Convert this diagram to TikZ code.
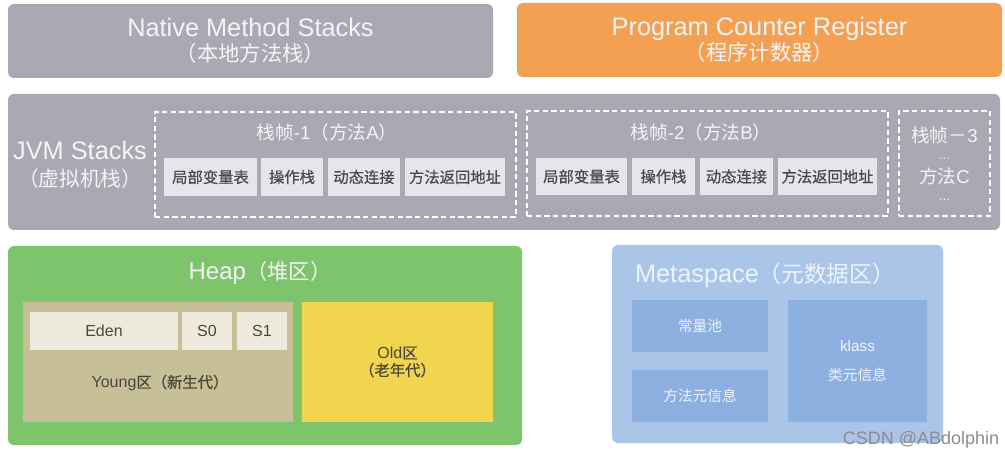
\documentclass[tikz,border=0pt]{standalone}
\usepackage{fontspec}
\setmainfont{Liberation Sans}
\newfontfamily\cjk{Noto Sans CJK SC}
\newfontfamily\cjkheavy[FakeBold=0.6]{Noto Sans CJK SC}
\definecolor{stackgray}{HTML}{A9A8B3}
\definecolor{pcorange}{HTML}{F3A052}
\definecolor{lighttxt}{HTML}{F4F4F7}
\definecolor{celltxt}{HTML}{4A4A4E}
\definecolor{cellfill}{HTML}{E6E6EA}
\definecolor{heapgreen}{HTML}{7EC46C}
\definecolor{youngtan}{HTML}{C6BF98}
\definecolor{edenfill}{HTML}{EDE9DC}
\definecolor{oldyellow}{HTML}{F1D54F}
\definecolor{darktxt}{HTML}{4B4839}
\definecolor{metablue}{HTML}{ABC5E9}
\definecolor{metainner}{HTML}{8EB0E0}
\definecolor{metatxt}{HTML}{EEF3FB}
\definecolor{wmgray}{HTML}{8C8C8C}
\begin{document}
\begin{tikzpicture}[x=0.75pt,y=-0.75pt,
  spanbox/.style n args={4}{rectangle, inner sep=0pt, outer sep=0pt, align=center,
    minimum width={(#3-#1)*0.75pt}, minimum height={(#4-#2)*0.75pt},
    at={({(#1+#3)/2},{(#2+#4)/2})}},
  region/.style={rounded corners=4.5pt},
  frame/.style={draw=white, dashed, dash pattern=on 4pt off 2.5pt, line width=0.9pt},
  cell/.style={fill=cellfill, text=celltxt, font=\cjkheavy\fontsize{11.5}{13}\selectfont},
  tan/.style={fill=edenfill, text=darktxt, font=\fontsize{12}{14}\selectfont},
  minner/.style={fill=metainner, text=metatxt, font=\cjk\fontsize{11}{13}\selectfont},
  lbl/.style={inner sep=0pt, outer sep=0pt, align=center}
]
\useasboundingbox (0,0) rectangle (1005,459);
\fill[white] (0,0) rectangle (1005,459);

% top row
\node[spanbox={8}{4}{493}{78}, region, fill=stackgray, text=lighttxt,
  font=\fontsize{19}{20}\selectfont] (native)
  {\raisebox{-1.5pt}{Native Method Stacks}\\{\cjk\fontsize{16}{20}\selectfont （本地方法栈）}};
\node[spanbox={517}{3}{1002}{77}, region, fill=pcorange, text=lighttxt,
  font=\fontsize{19}{20}\selectfont] (pcr)
  {\raisebox{-1.5pt}{Program Counter Register}\\{\cjk\fontsize{16}{20}\selectfont （程序计数器）}};

% JVM stacks
\node[spanbox={8}{94}{1000}{230}, region, fill=stackgray] (jvm) {};
\node[lbl, text=lighttxt, font=\fontsize{19}{20}\selectfont] (jvmlbl) at (80,165)
  {JVM Stacks\\{\cjk\fontsize{15.5}{20}\selectfont （虚拟机栈）}};

\node[spanbox={155}{112}{516}{217}, frame] (f1) {};
\node[spanbox={527}{111}{888}{216}, frame] (f2) {};
\node[spanbox={899}{111}{990}{216}, frame, text=lighttxt, font=\fontsize{14}{15}\selectfont] (f3)
  {{\cjk 栈帧－}3\\[-2pt]{\fontsize{10}{10}\selectfont ...}\\[3pt]{\cjk 方法}C\\[-2pt]{\fontsize{10}{10}\selectfont ...}};

\node[lbl, text=lighttxt, font=\fontsize{14}{15}\selectfont] (f1t) at (327,132)
  {{\cjk 栈帧}-1{\cjk （方法}A{\cjk ）}};
\node[lbl, text=lighttxt, font=\fontsize{14}{15}\selectfont] (f2t) at (701,132)
  {{\cjk 栈帧}-2{\cjk （方法}B{\cjk ）}};

\node[spanbox={164}{158}{257}{196}, cell] (a1) {局部变量表};
\node[spanbox={261}{158}{323}{196}, cell] (a2) {操作栈};
\node[spanbox={328}{158}{400}{196}, cell] (a3) {动态连接};
\node[spanbox={405}{158}{505}{196}, cell] (a4) {方法返回地址};

\node[spanbox={536}{158}{627}{195}, cell] (b1) {局部变量表};
\node[spanbox={632}{158}{695}{195}, cell] (b2) {操作栈};
\node[spanbox={700}{158}{773}{195}, cell] (b3) {动态连接};
\node[spanbox={778}{158}{877}{195}, cell] (b4) {方法返回地址};

% Heap
\node[spanbox={8}{246}{522}{445}, region, fill=heapgreen] (heap) {};
\node[lbl, text=lighttxt, font=\fontsize{18}{20}\selectfont] (heapt) at (260,273)
  {Heap{\cjk\fontsize{16}{20}\selectfont （堆区）}};
\node[spanbox={23}{302}{293}{422}, fill=youngtan] (young) {};
\node[spanbox={30}{312}{178}{350}, tan] (eden) {Eden};
\node[spanbox={182}{312}{232}{350}, tan] (s0) {S0};
\node[spanbox={237}{312}{287}{350}, tan] (s1) {S1};
\node[lbl, text=darktxt, font=\fontsize{12}{14}\selectfont] (youngt) at (160,383)
  {Young{\cjkheavy\fontsize{11.5}{14}\selectfont 区（新生代）}};
\node[spanbox={302}{302}{493}{422}, fill=oldyellow, text=darktxt,
  font=\fontsize{12}{13}\selectfont] (old)
  {Old{\cjkheavy\fontsize{11.5}{13}\selectfont 区}\\{\cjkheavy\fontsize{11.5}{13}\selectfont （老年代）}};

% Metaspace
\node[spanbox={612}{245}{943}{443}, region, fill=metablue] (meta) {};
\node[lbl, text=metatxt, font=\fontsize{19}{20}\selectfont] (metat) at (765,275)
  {Metaspace{\cjk\fontsize{17}{20}\selectfont （元数据区）}};
\node[spanbox={632}{300}{768}{352}, minner] (cpool) {常量池};
\node[spanbox={632}{370}{768}{422}, minner] (minfo) {方法元信息};
\node[spanbox={788}{300}{927}{422}, minner] (klass)
  {{\fontspec{Liberation Sans}\fontsize{11.5}{13}\selectfont klass}\\[9pt]类元信息};

% watermark
\node[lbl, text=wmgray, font=\fontsize{13.5}{15}\selectfont] (wm) at (921,440) {CSDN @ABdolphin};
\end{tikzpicture}
\end{document}
